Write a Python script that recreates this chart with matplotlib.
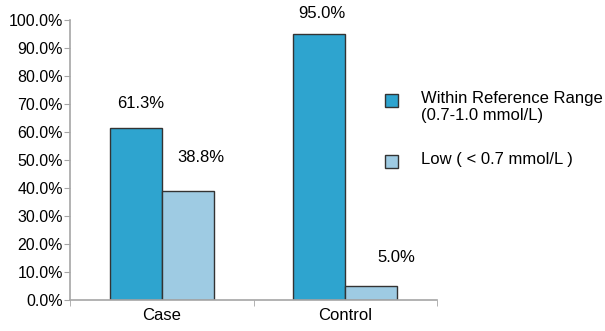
import matplotlib
matplotlib.use("Agg")
import matplotlib.pyplot as plt
from matplotlib.patches import Rectangle
from matplotlib.ticker import FixedLocator, PercentFormatter
import numpy as np

plt.rcParams["font.family"] = ["Liberation Sans", "DejaVu Sans"]

groups = ["Case", "Control"]
within_range = [61.3, 95.0]
low = [38.8, 5.0]
series_names = ["Within Reference Range\n(0.7-1.0 mmol/L)", "Low ( < 0.7 mmol/L )"]
colors = ["#2EA4CF", "#9ECBE3"]

# hand-placed value labels (offsets in pixels from bar top centre)
label_dx = [[5, 13], [3, 25]]
label_dy = [[25, 34], [20, 28]]

fig = plt.figure(figsize=(6.05, 3.31), dpi=100)
ax = fig.add_axes([70 / 605, 31 / 331, 367 / 605, 280 / 331])

x = np.arange(len(groups))
w = 0.284
grey = "#A6A6A6"

for i, (vals, col) in enumerate(zip([within_range, low], colors)):
    xs = x + (i - 0.5) * w
    ax.bar(xs, vals, width=w, color=col, edgecolor="#333333", linewidth=1.0, zorder=2)
    for j, (xi, v) in enumerate(zip(xs, vals)):
        ax.annotate(f"{v:.1f}%", (xi, v), xytext=(label_dx[j][i] * 0.72, label_dy[j][i] * 0.72),
                    textcoords="offset points", ha="center", va="center", fontsize=12)

ax.set_xlim(-0.5, 1.5)
ax.set_ylim(0, 100)
ax.yaxis.set_major_locator(FixedLocator(np.arange(0, 101, 10)))
ax.yaxis.set_major_formatter(PercentFormatter(decimals=1))
ax.set_xticks(x)
ax.set_xticklabels(groups)
ax.xaxis.set_minor_locator(FixedLocator([-0.5, 0.5, 1.5]))

for s in ["top", "right"]:
    ax.spines[s].set_visible(False)
for s in ["left", "bottom"]:
    ax.spines[s].set_color(grey)
    ax.spines[s].set_linewidth(1.2)

ax.tick_params(axis="y", length=4, color=grey, labelsize=11.5, pad=1)
ax.tick_params(axis="x", which="major", length=0, labelsize=12, pad=6)
ax.tick_params(axis="x", which="minor", length=4, color=grey)

# legend drawn by hand in pixel positions
W, H = 605, 331
for (name, col, yc) in [(series_names[0], colors[0], 100), (series_names[1], colors[1], 161)]:
    fig.patches.append(Rectangle((385 / W, (H - yc - 7) / H), 13 / W, 13 / H,
                                 transform=fig.transFigure, facecolor=col,
                                 edgecolor="#333333", linewidth=1.0))
    fig.text(421 / W, (H - yc + 9) / H, name, ha="left", va="top", fontsize=12,
             linespacing=1.2)

fig.savefig("out.png", dpi=100)
